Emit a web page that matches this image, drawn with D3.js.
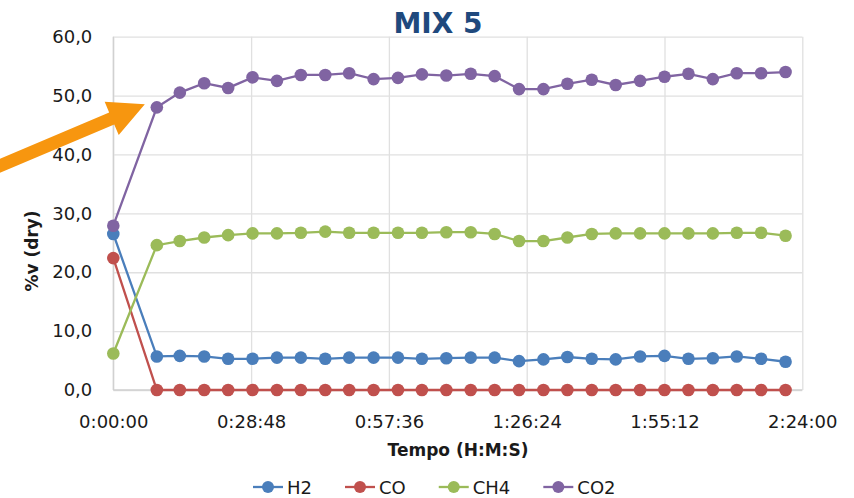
<!DOCTYPE html>
<html>
<head>
<meta charset="utf-8">
<script src="https://cdn.jsdelivr.net/npm/d3@7"></script>
<style>
  body { margin: 0; background: #fff; }
  svg { display: block; }
  text { font-family: "DejaVu Sans", sans-serif; fill: #1a1a1a; }
</style>
</head>
<body>
<svg id="svg1" width="854" height="498"></svg>
<script>
// sample times in minutes from start
var timeMin = [0, 9.1, 13.9, 19.0, 24.0, 29.1, 34.2, 39.2, 44.3, 49.3, 54.4, 59.5, 64.5, 69.6,
               74.7, 79.7, 84.8, 89.9, 94.9, 100.0, 105.0, 110.1, 115.2, 120.2, 125.3, 130.3, 135.4, 140.5];
var h2  = [26.5, 5.7, 5.8, 5.7, 5.3, 5.3, 5.5, 5.5, 5.3, 5.5, 5.5, 5.5, 5.3, 5.4,
           5.5, 5.5, 4.9, 5.2, 5.6, 5.3, 5.2, 5.7, 5.8, 5.3, 5.4, 5.7, 5.3, 4.8];
var co  = [22.4, 0, 0, 0, 0, 0, 0, 0, 0, 0, 0, 0, 0, 0,
           0, 0, 0, 0, 0, 0, 0, 0, 0, 0, 0, 0, 0, 0];
var ch4 = [6.2, 24.6, 25.3, 25.9, 26.3, 26.6, 26.6, 26.7, 26.9, 26.7, 26.7, 26.7, 26.7, 26.8,
           26.8, 26.5, 25.3, 25.3, 25.9, 26.5, 26.6, 26.6, 26.6, 26.6, 26.6, 26.7, 26.7, 26.2];
var co2 = [27.9, 48.0, 50.5, 52.1, 51.3, 53.1, 52.5, 53.5, 53.5, 53.8, 52.8, 53.0, 53.6, 53.4,
           53.7, 53.3, 51.1, 51.1, 52.0, 52.7, 51.8, 52.5, 53.2, 53.7, 52.8, 53.8, 53.8, 54.0];

var seriesNames = ['H2', 'CO', 'CH4', 'CO2'];
var seriesValues = [h2, co, ch4, co2];
var seriesColors = ['#4a7ebb', '#c0504d', '#9bbb59', '#8064a2'];

var xTickMinutes = [0, 28.8, 57.6, 86.4, 115.2, 144];
var xTickLabels = ['0:00:00', '0:28:48', '0:57:36', '1:26:24', '1:55:12', '2:24:00'];
var yTicks = [0, 10, 20, 30, 40, 50, 60];

var svg = d3.select('#svg1');

var x = d3.scaleLinear().domain([0, 144]).range([113.3, 802.3]);
var y = d3.scaleLinear().domain([0, 60]).range([390, 36.7]);

// gridlines
svg.append('g')
    .attr('transform', 'translate(0,' + y(0) + ')')
    .call(d3.axisBottom(x).tickValues(xTickMinutes).tickSize(-(y(0) - y(60))).tickFormat(''))
    .call(function (g) { g.select('.domain').remove(); })
    .selectAll('line').attr('stroke', '#e0e0e0').attr('stroke-width', 1.3);

svg.append('g')
    .attr('transform', 'translate(' + x(0) + ',0)')
    .call(d3.axisLeft(y).tickValues(yTicks).tickSize(-(x(144) - x(0))).tickFormat(''))
    .call(function (g) { g.select('.domain').remove(); })
    .selectAll('line').attr('stroke', '#e0e0e0').attr('stroke-width', 1.3);

// axis lines
svg.append('line').attr('x1', x(0)).attr('x2', x(0)).attr('y1', y(60)).attr('y2', y(0))
    .attr('stroke', '#d0d0d0').attr('stroke-width', 1.3);
svg.append('line').attr('x1', x(0)).attr('x2', x(144)).attr('y1', y(0)).attr('y2', y(0))
    .attr('stroke', '#d0d0d0').attr('stroke-width', 1.3);

// tick labels
var xAxis = svg.append('g')
    .attr('transform', 'translate(0,' + y(0) + ')')
    .call(d3.axisBottom(x).tickValues(xTickMinutes).tickSize(0).tickPadding(25)
          .tickFormat(function (d, i) { return xTickLabels[i]; }));
xAxis.select('.domain').remove();
xAxis.selectAll('text').style('font-size', '18px').style('font-family', '"DejaVu Sans"').attr('fill', '#1a1a1a');

var yAxis = svg.append('g')
    .attr('transform', 'translate(' + x(0) + ',0)')
    .call(d3.axisLeft(y).tickValues(yTicks).tickSize(0).tickPadding(21)
          .tickFormat(function (d) { return d.toFixed(1).replace('.', ','); }));
yAxis.select('.domain').remove();
yAxis.selectAll('text').style('font-size', '18px').style('font-family', '"DejaVu Sans"').attr('fill', '#1a1a1a');

// series
var line = d3.line()
    .x(function (d, i) { return x(timeMin[i]); })
    .y(function (d) { return y(d); });

for (var s = 0; s < seriesValues.length; s++) {
    var g = svg.append('g').attr('class', 'series');
    g.append('path')
        .attr('d', line(seriesValues[s]))
        .attr('fill', 'none')
        .attr('stroke', seriesColors[s])
        .attr('stroke-width', 2.3);
    g.selectAll('circle')
        .data(seriesValues[s])
        .enter().append('circle')
        .attr('cx', function (d, i) { return x(timeMin[i]); })
        .attr('cy', function (d) { return y(d); })
        .attr('r', 6.3)
        .attr('fill', seriesColors[s]);
}

// title and axis titles
svg.append('text').attr('x', 438).attr('y', 33).attr('text-anchor', 'middle')
    .style('font-size', '28px').style('font-weight', 'bold').style('fill', '#1f497d')
    .text('MIX 5');

svg.append('text').attr('x', 458).attr('y', 456).attr('text-anchor', 'middle')
    .style('font-size', '17px').style('font-weight', 'bold')
    .text('Tempo (H:M:S)');

svg.append('text').attr('transform', 'translate(38,251) rotate(-90)').attr('text-anchor', 'middle')
    .style('font-size', '17px').style('font-weight', 'bold')
    .text('%v (dry)');

// legend
var legend = svg.append('g').attr('transform', 'translate(253,487)');
var lx = 0;
for (var k = 0; k < seriesNames.length; k++) {
    var item = legend.append('g').attr('transform', 'translate(' + lx + ',0)');
    item.append('line').attr('x1', 0).attr('x2', 30).attr('y1', 0).attr('y2', 0)
        .attr('stroke', seriesColors[k]).attr('stroke-width', 2.3);
    item.append('circle').attr('cx', 15).attr('cy', 0).attr('r', 6).attr('fill', seriesColors[k]);
    var t = item.append('text').attr('x', 34).attr('y', 6.5)
        .style('font-size', '18px').text(seriesNames[k]);
    lx += 34 + t.node().getComputedTextLength() + 33;
}

// orange arrow pointing at the second CO2 sample
var tipX = x(timeMin[1]) - 12, tipY = y(co2[1]) - 3;
var tailX = -10, tailY = 170;
var dx = tipX - tailX, dy = tipY - tailY, len = Math.sqrt(dx * dx + dy * dy);
var ux = dx / len, uy = dy / len, nx = -uy, ny = ux;
var headLen = 36, headW = 18, shaftW = 6.5;
var bx = tipX - ux * headLen, by = tipY - uy * headLen;
var pts = [
    [tailX + nx * shaftW, tailY + ny * shaftW],
    [bx + nx * shaftW, by + ny * shaftW],
    [bx + nx * headW, by + ny * headW],
    [tipX, tipY],
    [bx - nx * headW, by - ny * headW],
    [bx - nx * shaftW, by - ny * shaftW],
    [tailX - nx * shaftW, tailY - ny * shaftW]
];
svg.append('polygon').attr('points', pts.map(function (p) { return p.join(','); }).join(' '))
    .attr('fill', '#f7960f');
</script>
</body>
</html>
